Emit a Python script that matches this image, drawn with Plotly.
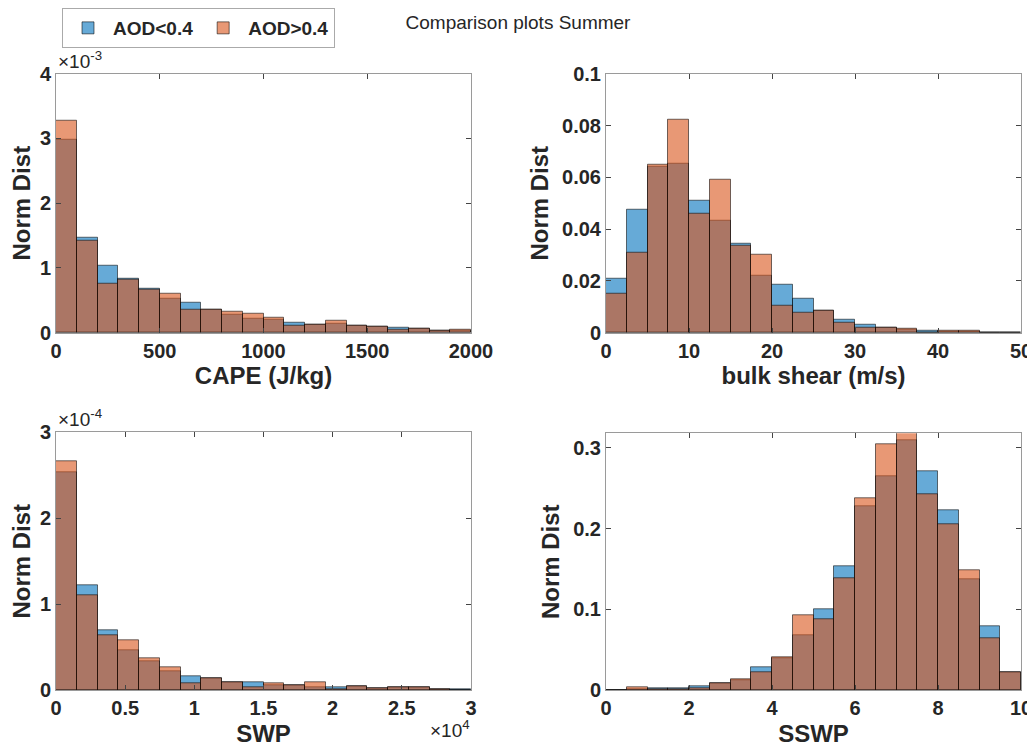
import numpy as np
import plotly.graph_objects as go

# ---------------- data (normalised distributions, 20 bins each) ----------------
cape_edges = np.linspace(0, 2000, 21)
cape_low = np.array([2.98, 1.46, 1.03, 0.83, 0.68, 0.53, 0.47, 0.36, 0.28, 0.215,
                     0.195, 0.16, 0.13, 0.14, 0.11, 0.09, 0.077, 0.057, 0.035, 0.03]) * 1e-3
cape_high = np.array([3.27, 1.42, 0.75, 0.82, 0.67, 0.60, 0.35, 0.36, 0.32, 0.29,
                      0.23, 0.11, 0.13, 0.19, 0.11, 0.09, 0.046, 0.055, 0.03, 0.046]) * 1e-3

shear_edges = np.linspace(0, 50, 21)
shear_low = [0.0209, 0.0476, 0.064, 0.0653, 0.0508, 0.0431, 0.0345, 0.0219, 0.0186, 0.013,
             0.0085, 0.0049, 0.003, 0.002, 0.0012, 0.0007, 0.0003, 0.0002, 0.0, 0.0]
shear_high = [0.015, 0.0308, 0.065, 0.0824, 0.046, 0.059, 0.0337, 0.030, 0.0103, 0.0077,
              0.0086, 0.0038, 0.0019, 0.002, 0.0017, 0.0, 0.0009, 0.0009, 0.0, 0.0]

swp_edges = np.linspace(0, 30000, 21)
swp_low = np.array([2.53, 1.22, 0.70, 0.47, 0.34, 0.22, 0.165, 0.14, 0.096, 0.094,
                    0.055, 0.054, 0.03, 0.035, 0.05, 0.023, 0.03, 0.03, 0.01, 0.008]) * 1e-4
swp_high = np.array([2.66, 1.10, 0.64, 0.58, 0.377, 0.27, 0.077, 0.135, 0.096, 0.04,
                     0.085, 0.054, 0.089, 0.01, 0.048, 0.023, 0.04, 0.04, 0.01, 0.0]) * 1e-4

sswp_edges = np.linspace(0, 10, 21)
sswp_low = [0.0, 0.001, 0.002, 0.002, 0.005, 0.008, 0.012, 0.028, 0.040, 0.068,
            0.0998, 0.154, 0.228, 0.265, 0.309, 0.2706, 0.2225, 0.137, 0.0797, 0.0225]
sswp_high = [0.0, 0.0037, 0.001, 0.001, 0.002, 0.009, 0.013, 0.022, 0.041, 0.093,
             0.088, 0.139, 0.238, 0.3046, 0.322, 0.2426, 0.2057, 0.149, 0.0644, 0.0225]

series_names = ["AOD<0.4", "AOD>0.4"]
title_text = "Comparison plots Summer"

# ---------------- styling ----------------
OFF = 8                      # page body margin in the browser
W, H = 1035 - OFF, 756 - 16
FONT = "Liberation Sans, Arial, Helvetica, sans-serif"
BLUE = "rgba(0,114,189,0.6)"
ORANGE = "rgba(217,83,25,0.6)"
EDGE = "rgba(0,0,0,0.55)"
AXC = "#9a9a9a"
TXT = "#262626"

def px_x(p):
    return (p - OFF) / W

def px_y(p):
    return 1 - (p - OFF) / H

panels = [
    dict(edges=cape_edges, low=cape_low, high=cape_high,
         xd=[px_x(56), px_x(471)], yd=[px_y(331), px_y(71)],
         xr=[0, 2000], yr=[0, 4e-3],
         xt=[0, 500, 1000, 1500, 2000], xtt=["0", "500", "1000", "1500", "2000"],
         yt=[0, 1e-3, 2e-3, 3e-3, 4e-3], ytt=["0", "1", "2", "3", "4"],
         xtitle="CAPE (J/kg)"),
    dict(edges=shear_edges, low=shear_low, high=shear_high,
         xd=[px_x(606), px_x(1021)], yd=[px_y(331), px_y(71)],
         xr=[0, 50], yr=[0, 0.1],
         xt=[0, 10, 20, 30, 40, 50], xtt=["0", "10", "20", "30", "40", "50"],
         yt=[0, 0.02, 0.04, 0.06, 0.08, 0.1], ytt=["0", "0.02", "0.04", "0.06", "0.08", "0.1"],
         xtitle="bulk shear (m/s)"),
    dict(edges=swp_edges, low=swp_low, high=swp_high,
         xd=[px_x(56), px_x(471)], yd=[px_y(690), px_y(431)],
         xr=[0, 30000], yr=[0, 3e-4],
         xt=[0, 5000, 10000, 15000, 20000, 25000, 30000],
         xtt=["0", "0.5", "1", "1.5", "2", "2.5", "3"],
         yt=[0, 1e-4, 2e-4, 3e-4], ytt=["0", "1", "2", "3"],
         xtitle="SWP"),
    dict(edges=sswp_edges, low=sswp_low, high=sswp_high,
         xd=[px_x(606), px_x(1021)], yd=[px_y(690), px_y(432)],
         xr=[0, 10], yr=[0, 0.318],
         xt=[0, 2, 4, 6, 8, 10], xtt=["0", "2", "4", "6", "8", "10"],
         yt=[0, 0.1, 0.2, 0.3], ytt=["0", "0.1", "0.2", "0.3"],
         xtitle="SSWP"),
]

fig = go.Figure()
layout = {}
for i, p in enumerate(panels):
    n = "" if i == 0 else str(i + 1)
    edges = np.asarray(p["edges"])
    width = edges[1] - edges[0]
    centers = edges[:-1] + width / 2
    for vals, color, name in [(p["low"], BLUE, series_names[0]), (p["high"], ORANGE, series_names[1])]:
        fig.add_trace(go.Bar(
            x=centers, y=vals, width=width, name=name,
            marker=dict(color=color, line=dict(color=EDGE, width=1)),
            showlegend=(i == 0), xaxis="x" + n, yaxis="y" + n,
        ))
    common = dict(showline=True, linecolor=AXC, linewidth=1, mirror="ticks",
                  ticks="inside", ticklen=5, tickcolor="#444", showgrid=False, zeroline=False,
                  automargin=False,
                  tickfont=dict(family=FONT, size=20, color=TXT, weight="bold"))
    layout["xaxis" + n] = dict(common, domain=p["xd"], range=p["xr"], anchor="y" + n,
                               tickvals=p["xt"], ticktext=p["xtt"],
                               title=dict(text=p["xtitle"], standoff=6,
                                          font=dict(family=FONT, size=24, color=TXT, weight="bold")))
    layout["yaxis" + n] = dict(common, domain=p["yd"], range=p["yr"], anchor="x" + n,
                               tickvals=p["yt"], ticktext=p["ytt"],
                               title=dict(text="Norm Dist", standoff=6,
                                          font=dict(family=FONT, size=24, color=TXT, weight="bold")))

fig.update_layout(**layout)

annots = [
    dict(text="×10<sup>-3</sup>", x=px_x(56), y=px_y(71), xanchor="left", yanchor="bottom"),
    dict(text="×10<sup>-4</sup>", x=px_x(56), y=px_y(431), xanchor="left", yanchor="bottom"),
    dict(text="×10<sup>4</sup>", x=px_x(472), y=px_y(715), xanchor="right", yanchor="top"),
]
for a in annots:
    fig.add_annotation(xref="paper", yref="paper", showarrow=False,
                       font=dict(family=FONT, size=19, color=TXT), **a)

fig.update_layout(
    width=W, height=H,
    margin=dict(l=0, r=0, t=0, b=0),
    paper_bgcolor="white", plot_bgcolor="white",
    barmode="overlay", bargap=0,
    title=dict(text=title_text, x=px_x(518), xanchor="center", y=px_y(22), yanchor="middle",
               font=dict(family=FONT, size=19, color=TXT)),
    legend=dict(orientation="h", x=px_x(62), y=px_y(5), xanchor="left", yanchor="top",
                bgcolor="white", bordercolor="#aaaaaa", borderwidth=1,
                font=dict(family=FONT, size=19, color=TXT, weight="bold"),
                itemwidth=40, tracegroupgap=0),
)

fig.write_html("out.html")
